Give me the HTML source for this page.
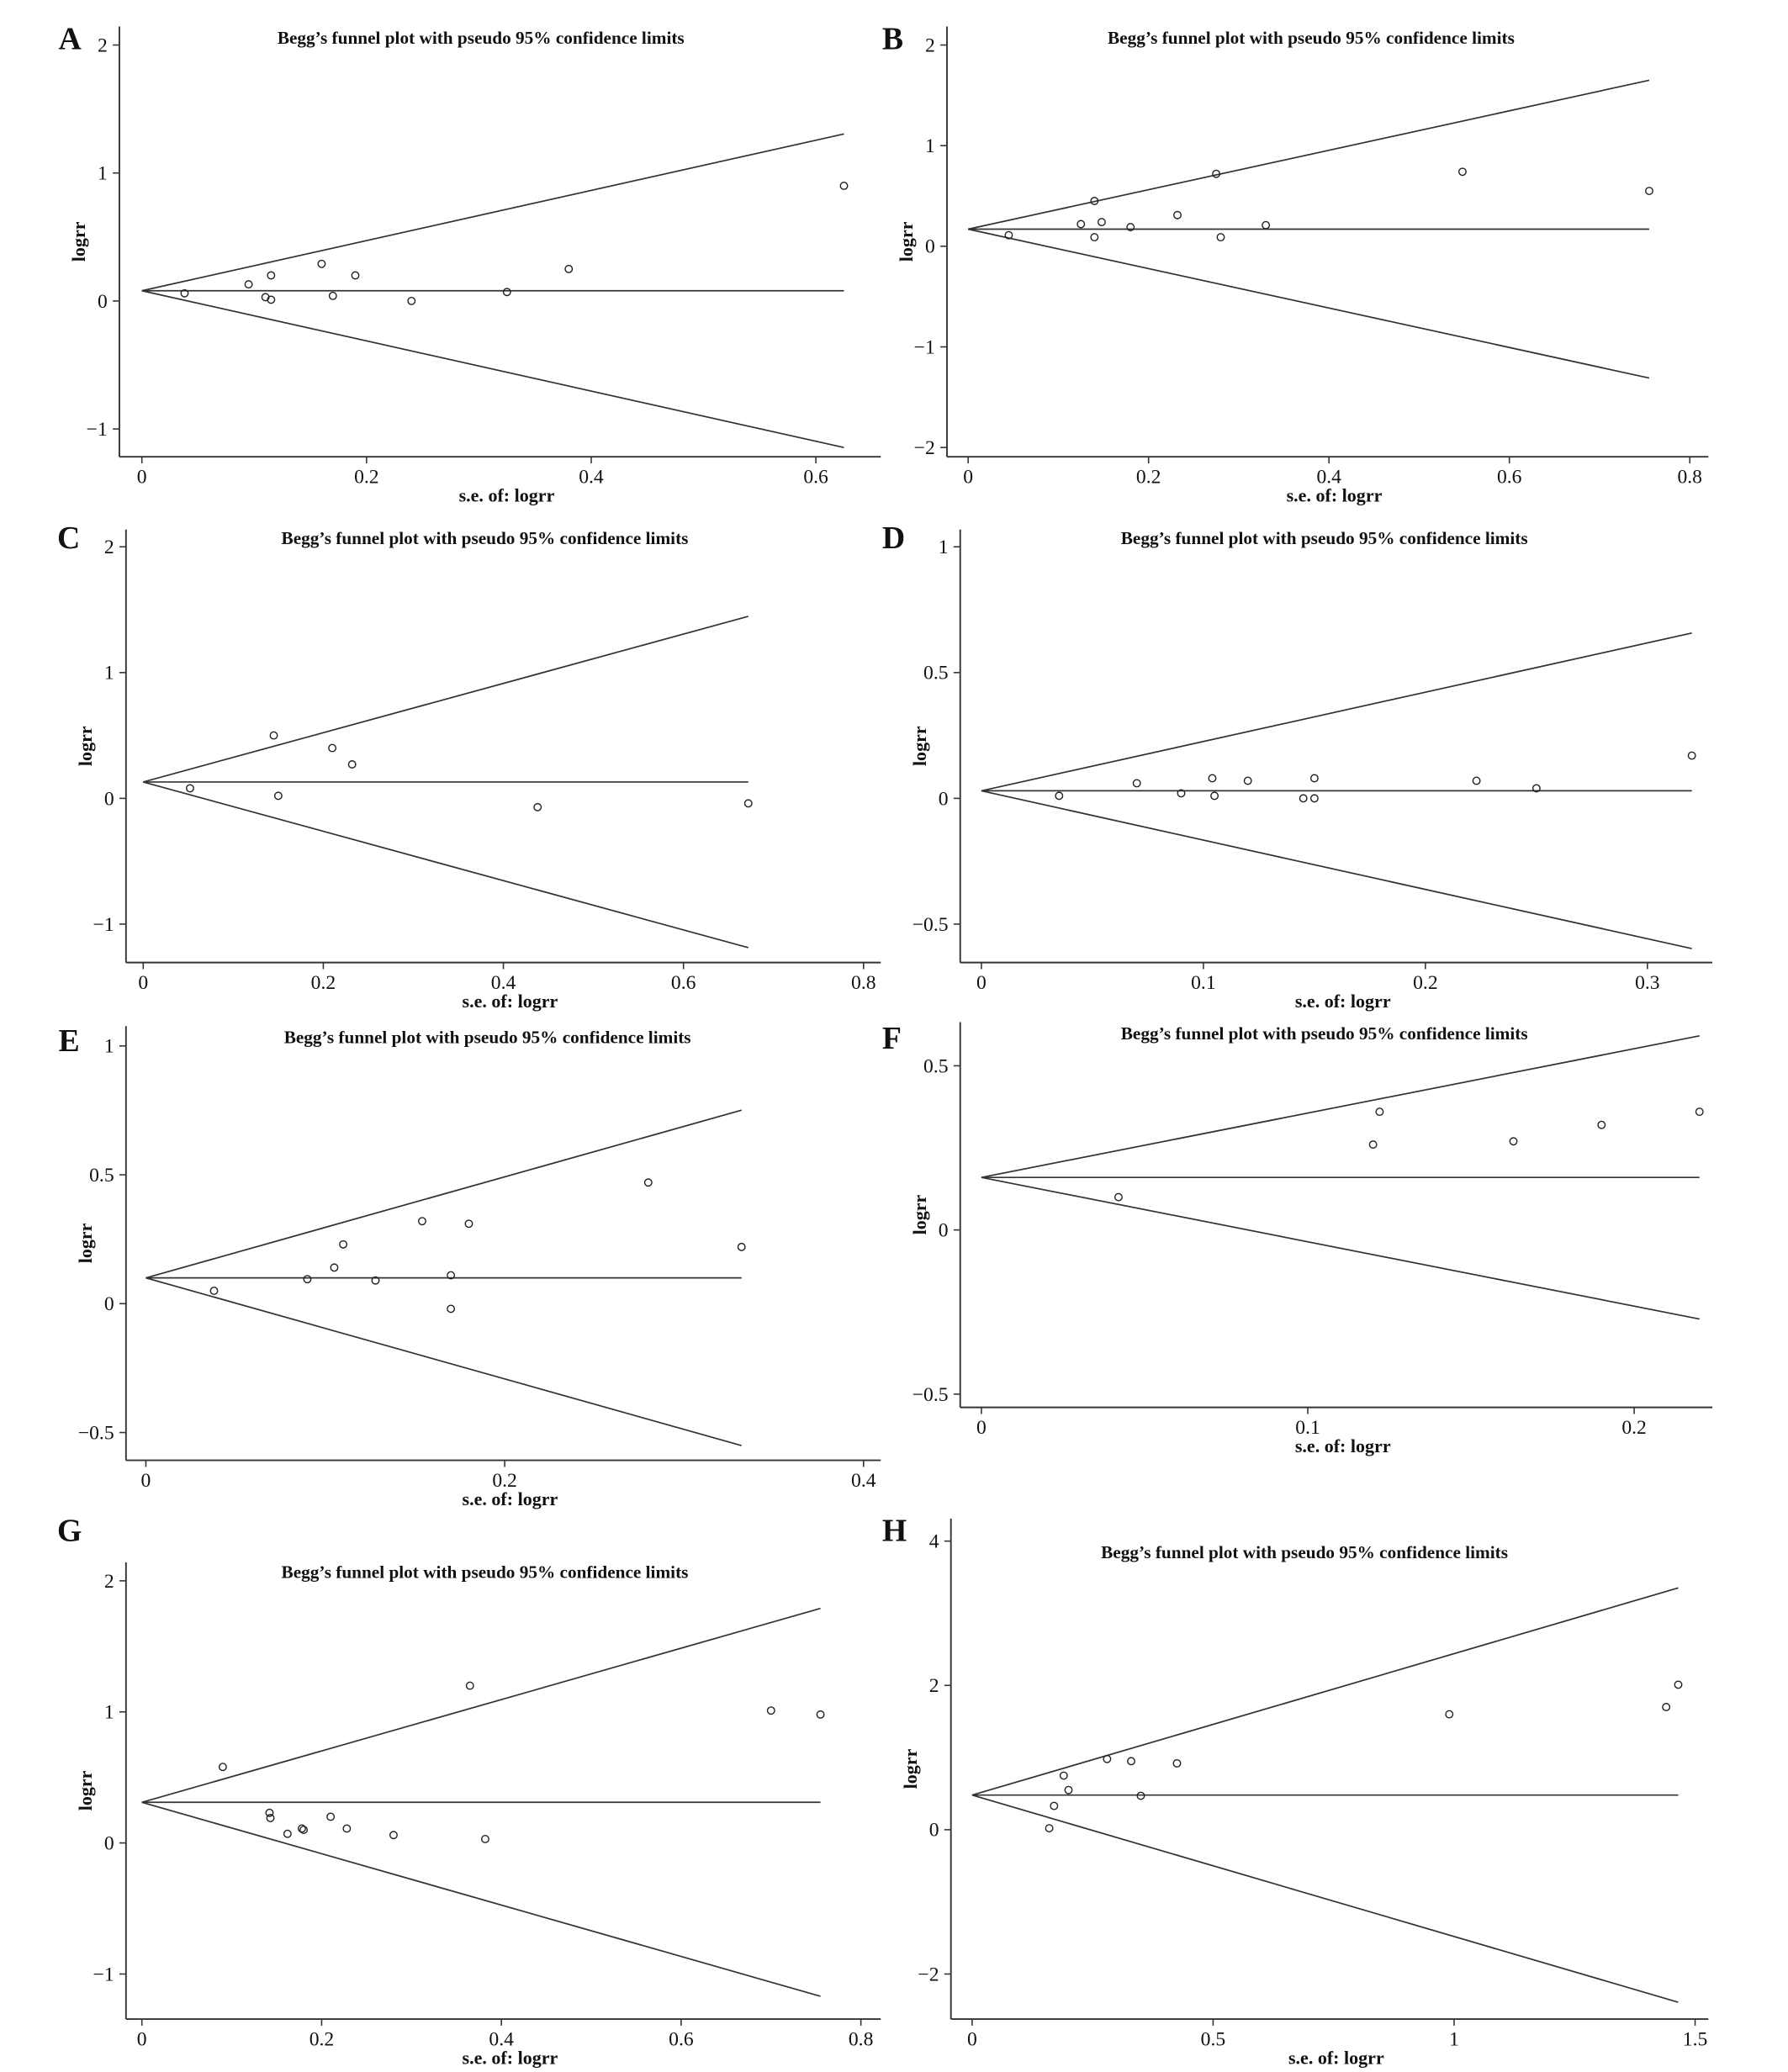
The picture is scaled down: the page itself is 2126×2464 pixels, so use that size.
<!DOCTYPE html>
<html><head><meta charset="utf-8"><style>
html,body{margin:0;padding:0;background:#fff}
svg{display:block}
text{font-family:"Liberation Serif",serif;fill:#111}
</style></head><body>
<svg id="fig" width="2126" height="2464" viewBox="0 0 1350 1565" xmlns="http://www.w3.org/2000/svg"></svg>
<script>
const seA=[0.038,0.095,0.11,0.115,0.115,0.16,0.17,0.19,0.24,0.325,0.38,0.625];
const lrA=[0.06,0.13,0.03,0.01,0.2,0.29,0.04,0.2,0.0,0.07,0.25,0.9];
const seB=[0.045,0.125,0.14,0.14,0.148,0.18,0.232,0.275,0.28,0.33,0.548,0.755];
const lrB=[0.11,0.22,0.45,0.09,0.24,0.19,0.31,0.72,0.09,0.21,0.74,0.55];
const seC=[0.052,0.145,0.15,0.21,0.232,0.438,0.672];
const lrC=[0.08,0.5,0.02,0.4,0.27,-0.07,-0.04];
const seD=[0.035,0.07,0.09,0.104,0.105,0.12,0.145,0.15,0.15,0.223,0.25,0.32];
const lrD=[0.01,0.06,0.02,0.08,0.01,0.07,0.0,0.08,0.0,0.07,0.04,0.17];
const seE=[0.038,0.09,0.105,0.11,0.128,0.154,0.17,0.17,0.18,0.28,0.332];
const lrE=[0.05,0.095,0.14,0.23,0.09,0.32,0.11,-0.02,0.31,0.47,0.22];
const seF=[0.042,0.12,0.122,0.163,0.19,0.22];
const lrF=[0.1,0.26,0.36,0.27,0.32,0.36];
const seG=[0.09,0.142,0.143,0.162,0.178,0.18,0.21,0.228,0.28,0.365,0.382,0.7,0.755];
const lrG=[0.58,0.23,0.19,0.07,0.11,0.1,0.2,0.11,0.06,1.2,0.03,1.01,0.98];
const seH=[0.16,0.17,0.19,0.2,0.28,0.33,0.35,0.425,0.99,1.44,1.465];
const lrH=[0.02,0.33,0.75,0.55,0.98,0.95,0.47,0.92,1.6,1.7,2.01];
const muVals={A:0.08,B:0.17,C:0.13,D:0.03,E:0.1,F:0.16,G:0.31,H:0.48};
const xTicksA=["0","0.2","0.4","0.6"], yTicksA=["2","1","0","\u22121"];
const xTicksB=["0","0.2","0.4","0.6","0.8"], yTicksB=["2","1","0","\u22121","\u22122"];
const xTicksC=["0","0.2","0.4","0.6","0.8"], yTicksC=["2","1","0","\u22121"];
const xTicksD=["0","0.1","0.2","0.3"], yTicksD=["1","0.5","0","\u22120.5"];
const xTicksE=["0","0.2","0.4"], yTicksE=["1","0.5","0","\u22120.5"];
const xTicksF=["0","0.1","0.2"], yTicksF=["0.5","0","\u22120.5"];
const xTicksG=["0","0.2","0.4","0.6","0.8"], yTicksG=["2","1","0","\u22121"];
const xTicksH=["0","0.5","1","1.5"], yTicksH=["4","2","0","\u22122"];

const NS="http://www.w3.org/2000/svg";
const fig=document.getElementById('fig');
function mk(tag,attrs,parent,txt){const e=document.createElementNS(NS,tag);for(const k in attrs)e.setAttribute(k,attrs[k]);if(txt!==undefined)e.textContent=txt;parent.appendChild(e);return e;}
const num=s=>parseFloat(s.replace('\u2212','-'));

// layout: axis x, top, axis bottom, right, x tick px (first,last), y tick px (first,last), title pos, letter pos
const panels=[
 {id:'A',se:seA,lr:lrA,xt:xTicksA,yt:yTicksA,ax:90,top:20,bot:345,right:665,x0:107,x1:616,y0:34,y1:324,ty:28,tx:363,lx:44,ly:37},
 {id:'B',se:seB,lr:lrB,xt:xTicksB,yt:yTicksB,ax:715,top:20,bot:345,right:1290,x0:731,x1:1276,y0:34,y1:338,ty:28,tx:990,lx:666,ly:37},
 {id:'C',se:seC,lr:lrC,xt:xTicksC,yt:yTicksC,ax:95,top:400,bot:727,right:665,x0:108,x1:652,y0:413,y1:698,ty:406,tx:366,lx:43,ly:414},
 {id:'D',se:seD,lr:lrD,xt:xTicksD,yt:yTicksD,ax:725,top:400,bot:727,right:1293,x0:741,x1:1244,y0:413,y1:698,ty:406,tx:1000,lx:666,ly:414},
 {id:'E',se:seE,lr:lrE,xt:xTicksE,yt:yTicksE,ax:95,top:775,bot:1103,right:665,x0:110,x1:652,y0:790,y1:1082,ty:783,tx:368,lx:44,ly:794},
 {id:'F',se:seF,lr:lrF,xt:xTicksF,yt:yTicksF,ax:725,top:772,bot:1063,right:1293,x0:741,x1:1234,y0:805,y1:1053,ty:780,tx:1000,lx:666,ly:792},
 {id:'G',se:seG,lr:lrG,xt:xTicksG,yt:yTicksG,ax:95,top:1180,bot:1525,right:665,x0:107,x1:650,y0:1194,y1:1491,ty:1187,tx:366,lx:43,ly:1164},
 {id:'H',se:seH,lr:lrH,xt:xTicksH,yt:yTicksH,ax:718,top:1147,bot:1525,right:1290,x0:734,x1:1280,y0:1164,y1:1491,ty:1172,tx:985,lx:666,ly:1164}
];

panels.forEach(p=>{
 const g=mk('g',{},fig);
 
 
 const xv0=num(p.xt[0]),xv1=num(p.xt[p.xt.length-1]);
 const yv0=num(p.yt[0]),yv1=num(p.yt[p.yt.length-1]);
 const X=v=>p.x0+(v-xv0)/(xv1-xv0)*(p.x1-p.x0);
 const Y=v=>p.y0+(v-yv0)/(yv1-yv0)*(p.y1-p.y0);
 const lt=mk('text',{x:p.lx,y:p.ly,'font-size':24,'font-weight':'bold'},g,p.id);
  
 const tt=mk('text',{x:p.tx,y:p.ty+5,'font-size':13.5,'font-weight':'bold','text-anchor':'middle'},g,"Begg\u2019s funnel plot with pseudo 95% confidence limits");
  
 const ya=mk('line',{x1:p.ax,y1:p.top,x2:p.ax,y2:p.bot,stroke:'#333','stroke-width':1.2},g);
  
 const xa=mk('line',{x1:p.ax,y1:p.bot,x2:p.right,y2:p.bot,stroke:'#333','stroke-width':1.2},g);
  
 p.yt.forEach(t=>{const y=Y(num(t));
  mk('line',{x1:p.ax-5,y1:y,x2:p.ax,y2:y,stroke:'#333','stroke-width':1},g);
  const e=mk('text',{x:p.ax-9,y:y+5,'font-size':15,'text-anchor':'end'},g,t);
   });
 p.xt.forEach(t=>{const x=X(num(t));
  mk('line',{x1:x,y1:p.bot,x2:x,y2:p.bot+5,stroke:'#333','stroke-width':1},g);
  const e=mk('text',{x:x,y:p.bot+20,'font-size':15,'text-anchor':'middle'},g,t);
   });
 const xl=mk('text',{x:(p.ax+p.right)/2+5,y:p.bot+34,'font-size':14,'font-weight':'bold','text-anchor':'middle'},g,'s.e. of: logrr');
  
 const cy=(p.top+p.bot)/2;
 const yl=mk('text',{x:p.ax-26,y:cy,'font-size':14,'font-weight':'bold','text-anchor':'middle',transform:`rotate(-90 ${p.ax-26} ${cy})`},g,'logrr');
  
 const mu=muVals[p.id], sm=Math.max(...p.se);
 [[mu,mu],[mu,mu+1.96*sm],[mu,mu-1.96*sm]].forEach((l,i)=>{
  const ln=mk('line',{x1:X(0),y1:Y(l[0]),x2:X(sm),y2:Y(l[1]),stroke:'#333','stroke-width':1.1},g);
  
  });
 p.se.forEach((s,i)=>{
  const c=mk('circle',{cx:X(s),cy:Y(p.lr[i]),r:2.7,fill:'none',stroke:'#222','stroke-width':0.9},g);
  
  });
});
</script>
</body></html>
